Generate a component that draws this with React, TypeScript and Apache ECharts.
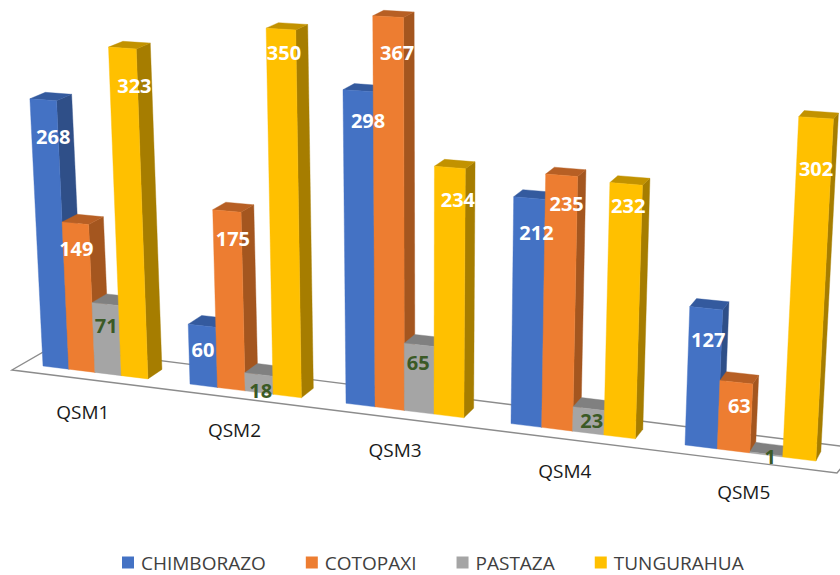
import React, { useEffect, useRef } from "react";
import * as echarts from "echarts";

const categories = ["QSM1", "QSM2", "QSM3", "QSM4", "QSM5"];
const chimborazo = [268, 60, 298, 212, 127];
const cotopaxi = [149, 175, 367, 235, 63];
const pastaza = [71, 18, 65, 23, 1];
const tungurahua = [323, 350, 234, 232, 302];
const seriesNames = ["CHIMBORAZO", "COTOPAXI", "PASTAZA", "TUNGURAHUA"];
const seriesValues = [chimborazo, cotopaxi, pastaza, tungurahua];

const frontColors = ["#4472C4", "#ED7D31", "#A5A5A5", "#FFC000"];
const sideColors = ["#2F4F88", "#A4561F", "#7F7F7F", "#A67D00"];
const topColors = ["#345A9E", "#B75F24", "#808080", "#C29200"];
const labelColors = ["#FFFFFF", "#FFFFFF", "#3B5A26", "#FFFFFF"];

// layout: label offset [dx, dy] from the centre of each bar's top edge
const labelOffsets = [
  [[10, 37], [1, 24], [10, 30], [7, 34], [2, 31]],
  [[1, 25], [6, 27], [9, 36], [5, 28], [3, 23]],
  [[1, 21], [2, 16], [-1, 18], [3, 12], [4, 3]],
  [[12, 37], [3, 23], [8, 32], [2, 22], [0, 51]],
];

const GRID_LEFT = 20;
const BAND = 150;
const BAR_STEP = 0.18;

// perspective warp from the flat grid to the picture's tilted floor
const warpX = (t: number) => 43 + 142.5 * t + 4.5 * t * t;
const floorY = (x: number) => 366 + 0.123 * (x - 43);
const project = (x: number, v: number, depth: number) => {
  const h = v * (0.995 + 0.00017 * (x - 43) + 0.00012 * (v - 250));
  const px = x + 0.00013 * (x - 420) * h;
  const py = floorY(x) - h;
  const dx = 14 - (9 * (x - 149)) / 668;
  const dy = -(9.5 - (4 * Math.min(v, 350)) / 350);
  return [px + dx * depth, py + dy * depth];
};

const FONT = "'Open Sans', sans-serif";

const barRender = (s: number) => (_params: any, api: any) => {
  const cat = api.value(0);
  const val = api.value(1);
  const top = api.coord([cat, val]);
  const base = api.coord([cat, 0]);
  const v = base[1] - top[1];
  const t = (top[0] - GRID_LEFT) / BAND - 0.5 + BAR_STEP * s;
  const xl = warpX(t);
  const xr = warpX(t + BAR_STEP);
  const poly = (points: number[][], fill: string) => ({
    type: "polygon",
    shape: { points },
    style: { fill, stroke: fill, lineWidth: 0.4 },
  });
  const tl = project(xl, v, 0);
  const tr = project(xr, v, 0);
  const off = labelOffsets[s][cat];
  return {
    type: "group",
    children: [
      poly([project(xr, 0, 0), project(xr, 0, 1), project(xr, v, 1), tr], sideColors[s]),
      poly([tl, tr, project(xr, v, 1), project(xl, v, 1)], topColors[s]),
      poly([project(xl, 0, 0), project(xr, 0, 0), tr, tl], frontColors[s]),
      {
        type: "text",
        z2: 100,
        style: {
          x: (tl[0] + tr[0]) / 2 + off[0],
          y: (tl[1] + tr[1]) / 2 + off[1],
          text: String(val),
          fill: labelColors[s],
          font: `bold 20px ${FONT}`,
          align: "center",
          verticalAlign: "middle",
        },
      },
    ],
  };
};

const axisLabelRender = (_params: any, api: any) => {
  const cat = api.value(0);
  const p = api.coord([cat, 0]);
  const t = (p[0] - GRID_LEFT) / BAND - 0.5 + 2 * BAR_STEP;
  const x = warpX(t);
  return {
    type: "text",
    style: {
      x: x - (12 - 0.009 * (x - 95)),
      y: floorY(x) + 39.5,
      text: categories[cat],
      fill: "#1a1a1a",
      font: `19px ${FONT}`,
      align: "center",
      verticalAlign: "middle",
    },
  };
};

export default function App() {
  const ref = useRef<HTMLDivElement>(null);
  useEffect(() => {
    document.body.style.margin = "0";
    const chart = echarts.init(ref.current!, null, { renderer: "svg" });
    chart.setOption({
      animation: false,
      backgroundColor: "#FFFFFF",
      grid: { left: GRID_LEFT, top: 0, width: BAND * categories.length, height: 400 },
      xAxis: { type: "category", data: categories, show: false },
      yAxis: { type: "value", min: 0, max: 400, show: false },
      legend: {
        left: 122,
        top: 553,
        padding: 0,
        itemWidth: 12,
        itemHeight: 12,
        itemGap: 40,
        icon: "rect",
        selectedMode: false,
        data: seriesNames,
        textStyle: { color: "#404040", fontSize: 19, fontFamily: FONT, padding: [0, 0, 0, 2] },
      },
      graphic: [
        {
          type: "polyline",
          z: 0,
          silent: true,
          shape: {
            points: [
              [856, 448],
              [52, 347],
              [12, 370],
              [837, 473],
              [848, 460],
            ],
          },
          style: { fill: "#FFFFFF", stroke: "#8C8C8C", lineWidth: 1.4 },
        },
      ],
      series: [
        {
          type: "custom",
          name: "axisLabels",
          silent: true,
          renderItem: axisLabelRender,
          data: categories.map((_c, i) => [i, 0]),
          encode: { x: 0, y: 1 },
        },
        ...seriesNames.map((name, s) => ({
          type: "custom",
          name,
          silent: true,
          itemStyle: { color: frontColors[s] },
          renderItem: barRender(s),
          data: seriesValues[s].map((v, i) => [i, v]),
          encode: { x: 0, y: 1 },
        })),
      ],
    });
    return () => chart.dispose();
  }, []);
  return <div ref={ref} style={{ width: 840, height: 575 }} />;
}
